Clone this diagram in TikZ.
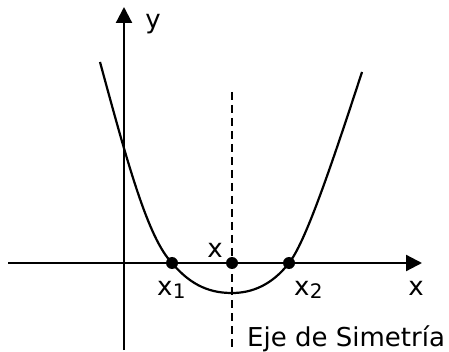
\documentclass[tikz,border=0pt]{standalone}
\usepackage{fontspec}
\setmainfont{DejaVu Sans}
\usetikzlibrary{arrows.meta}
\begin{document}
\begin{tikzpicture}[x=1pt,y=-1pt,
  axis/.style={line width=2.2pt,-{Triangle[length=16pt,width=16pt]}},
  curveline/.style={line width=2.2pt},
  sym/.style={line width=2pt,dash pattern=on 8pt off 5pt},
  pt/.style={circle,fill=black,inner sep=0pt,minimum size=12pt},
  lbl/.style={font=\fontsize{26}{28}\selectfont,inner sep=0pt},
  sub/.style={font=\fontsize{20}{20}\selectfont,inner sep=0pt}]
\useasboundingbox (0,0) rectangle (449,352);
\coordinate (xs) at (8,263);
\coordinate (xe) at (422,263);
\coordinate (ys) at (124,350);
\coordinate (ye) at (124,7);
\coordinate (ds) at (232,92);
\coordinate (de) at (232,352);
\draw[axis] (xs) -- (xe);
\draw[axis] (ys) -- (ye);
\draw[sym] (ds) -- (de);
\coordinate (c0) at (100,62);
\coordinate (c1) at (172,263);
\coordinate (c2) at (232,293);
\coordinate (c3) at (289,263);
\coordinate (c4) at (362,72);
\draw[curveline] (c0) .. controls (128,165) and (148,238) .. (c1)
  .. controls (192,287) and (212,293) .. (c2)
  .. controls (252,293) and (272,285) .. (c3)
  .. controls (305,243) and (330,170) .. (c4);
\node[pt] (p1) at (c1) {};
\node[pt] (p0) at (232,263) {};
\node[pt] (p2) at (c3) {};
\node[lbl,anchor=base] (ly) at (153,29) {y};
\node[lbl,anchor=base] (lx) at (416,295) {x};
\node[lbl,anchor=base] (lx0) at (215,258) {x};
\node[lbl,anchor=base west] (lx1) at (157,295) {x};
\node[sub,anchor=base west] (s1) at (lx1.base east) {\raisebox{-3pt}{1}};
\node[lbl,anchor=base west] (lx2) at (294,295) {x};
\node[sub,anchor=base west] (s2) at (lx2.base east) {\raisebox{-3pt}{2}};
\node[lbl,anchor=base west] (eje) at (247,346) {Eje de Simetría};
\end{tikzpicture}
\end{document}
